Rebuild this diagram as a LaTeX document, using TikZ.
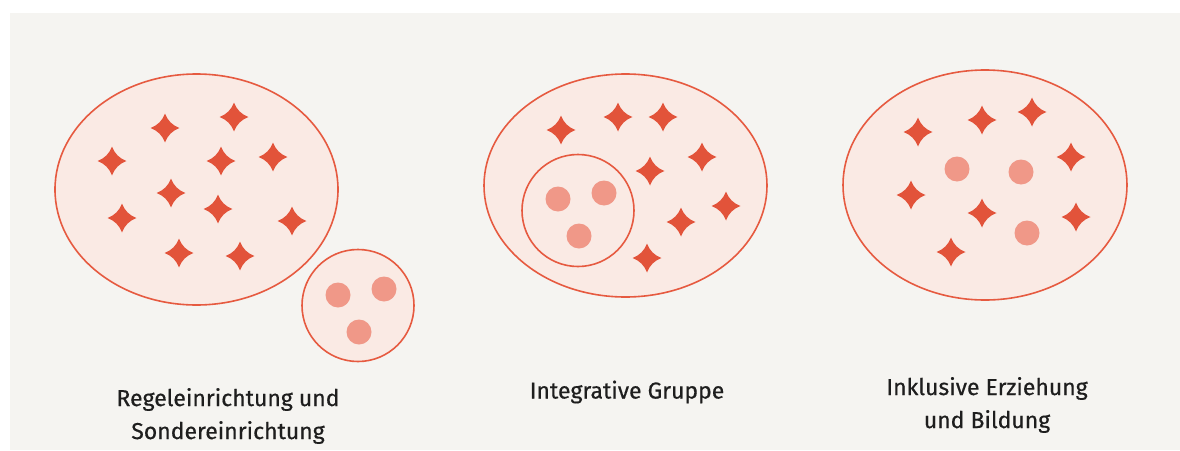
\documentclass[tikz,border=0pt]{standalone}
\usepackage{fontspec}
\setmainfont{Fira Sans}
\newfontfamily\lblfont{Fira Sans}[FakeBold=0.5]
\definecolor{bgc}{HTML}{F5F4F1}
\definecolor{edgec}{HTML}{E65A40}
\definecolor{fillc}{HTML}{FAEAE4}
\definecolor{starc}{HTML}{E2533A}
\definecolor{dotc}{HTML}{F09888}
\definecolor{txtc}{HTML}{1E1E1E}
\tikzset{
  grp/.style={draw=edgec, fill=fillc, line width=1.6pt},
  dotp/.style={fill=dotc},
  lbl/.style={text=txtc, align=center, font=\lblfont\fontsize{23}{33}\selectfont, inner sep=0pt},
  star4/.pic={\fill[starc] (0,14.5) .. controls (2.5,7.5) and (7.5,2.5) .. (14.5,0) .. controls (7.5,-2.5) and (2.5,-7.5) .. (0,-14.5) .. controls (-2.5,-7.5) and (-7.5,-2.5) .. (-14.5,0) .. controls (-7.5,2.5) and (-2.5,7.5) .. cycle;}
}
\begin{document}
\begin{tikzpicture}[x=1pt,y=-1pt]
\useasboundingbox (0,0) rectangle (1180,450);
\fill[white] (0,0) rectangle (1180,450);
\fill[bgc] (10,13) rectangle (1180,450);
% group 1
\draw[grp] (196.5,189.5) ellipse [x radius=141.5pt, y radius=115.5pt];
\foreach \p in {(165,128),(234,117),(112,161),(221,161),(273,157),(171,193),(122,218),(218,209),(292,221),(179,253),(240,256)}
  \pic at \p {star4};
\draw[grp] (358,305.5) circle [radius=56pt];
\foreach \p in {(338,295),(384,289),(359,332)}
  \fill[dotp] \p circle [radius=12.5pt];
% group 2
\draw[grp] (625.5,185.5) ellipse [x radius=141.5pt, y radius=111.5pt];
\draw[grp] (578,210.5) circle [radius=56pt];
\foreach \p in {(558,199),(604,193),(579,236)}
  \fill[dotp] \p circle [radius=12.5pt];
\foreach \p in {(561,130),(618,117),(663,117),(702,157),(650,171),(726,206),(681,222),(647,258)}
  \pic at \p {star4};
% group 3
\draw[grp] (985,185) ellipse [x radius=142pt, y radius=115pt];
\foreach \p in {(918,132),(982,120),(1032,112),(1071,157),(911,195),(982,213),(1076,217),(951,252)}
  \pic at \p {star4};
\foreach \p in {(957,169),(1021,172),(1027,233)}
  \fill[dotp] \p circle [radius=12.5pt];
% labels
\node[lbl] (l1) at (228,416) {Regeleinrichtung und\\Sondereinrichtung};
\node[lbl] (l2) at (627,392) {Integrative Gruppe};
\node[lbl] (l3) at (987,405) {Inklusive Erziehung\\und Bildung};
\end{tikzpicture}
\end{document}
